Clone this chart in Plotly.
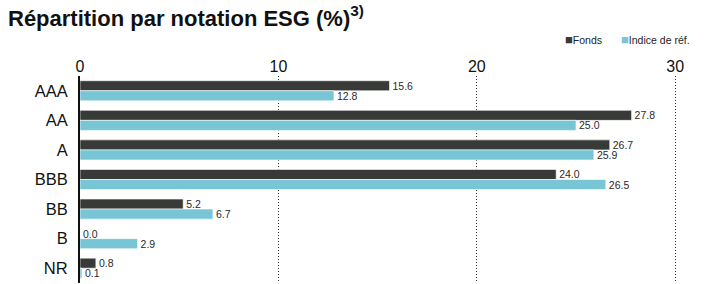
import plotly.graph_objects as go

categories = ["AAA", "AA", "A", "BBB", "BB", "B", "NR"]
fonds = [15.6, 27.8, 26.7, 24.0, 5.2, 0.0, 0.8]
indice = [12.8, 25.0, 25.9, 26.5, 6.7, 2.9, 0.1]
x_ticks = [0, 10, 20, 30]
series_names = ["Fonds", "Indice de réf."]

FONT = "Liberation Sans, Arial, sans-serif"
DARK = "#383a38"
BLUE = "#77c5d5"

fig = go.Figure()
for name, vals, col in [(series_names[0], fonds, DARK), (series_names[1], indice, BLUE)]:
    fig.add_trace(go.Bar(
        y=categories, x=vals, name=name, orientation="h",
        marker=dict(color=col, line=dict(color="white", width=0.6)),
        text=[f"{v:.1f}" for v in vals], textposition="outside", constraintext="none",
        textfont=dict(size=10.5, color="#2a2a2a", family=FONT), cliponaxis=False,
        showlegend=False,
    ))

# custom legend (compact square + label, as in the reference)
for xpos, name, col in [(0.772, series_names[0], DARK), (0.863, series_names[1], BLUE)]:
    fig.add_annotation(
        xref="paper", yref="paper", x=xpos, y=1.175, xanchor="left", yanchor="middle",
        text=f"<span style='color:{col};font-size:13px'>■</span>{name}", showarrow=False,
        font=dict(size=10.5, color="#222", family=FONT),
    )

fig.update_layout(
    width=709, height=284,
    margin=dict(l=80, r=4, t=76, b=1, autoexpand=False),
    barmode="group", bargap=0.32, bargroupgap=0,
    plot_bgcolor="white", paper_bgcolor="white",
    font=dict(family=FONT, color="#111"),
    title=dict(
        text="<b>Répartition par notation ESG (%)</b><sup><b>3)</b></sup>",
        x=8 / 709, xanchor="left", xref="container",
        y=1 - 18 / 284, yanchor="middle", yref="container",
        font=dict(size=22, color="#111", family=FONT),
    ),
)
fig.update_xaxes(
    side="top", range=[0, 31.5], tickvals=x_ticks, ticktext=[str(t) for t in x_ticks],
    showgrid=True, gridcolor="#333", griddash="1px,2px", gridwidth=1,
    zeroline=False, showline=False, ticks="", automargin=False,
    tickfont=dict(size=16, color="#111", family=FONT),
)
fig.update_yaxes(
    autorange="reversed", showgrid=False, showline=True, linecolor="#111", linewidth=2,
    ticks="", ticklabelstandoff=7, automargin=False,
    tickfont=dict(size=16.5, color="#111", family=FONT),
)
fig.write_html(
    "out.html",
    config={"displayModeBar": False},
    post_script="document.body.style.margin='0';document.body.style.padding='0';",
)
